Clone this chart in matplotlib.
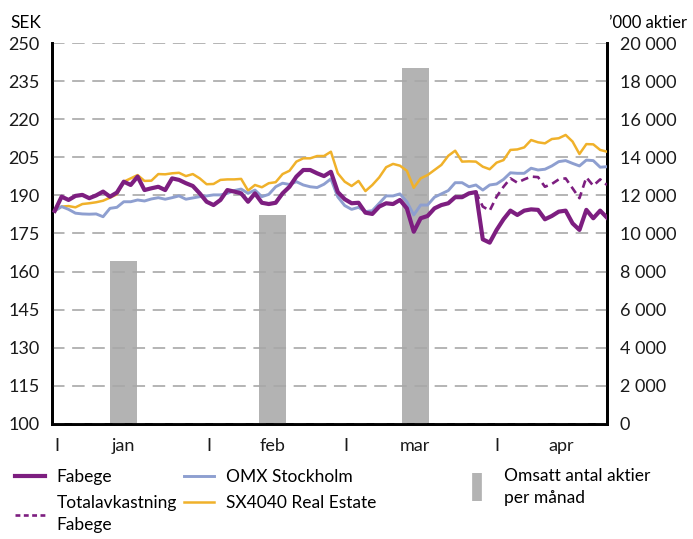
import matplotlib
matplotlib.use("Agg")
import matplotlib.pyplot as plt
from matplotlib.lines import Line2D
from matplotlib.ticker import FuncFormatter

plt.rcParams['font.family'] = ['Lato', 'DejaVu Sans']
plt.rcParams['lines.scale_dashes'] = False

# daily closing prices, SEK (trading-day index 0..80)
fabege = [183.9, 189.5, 188.2, 189.8, 190.2, 188.9, 190.0, 191.5, 189.5, 191.1,
          195.4, 194.1, 197.4, 192.1, 192.8, 193.4, 192.1, 196.7, 196.1, 194.8,
          193.7, 190.8, 187.5, 186.2, 188.2, 192.1, 191.5, 190.8, 187.5, 190.8,
          187.1, 186.6, 187.1, 190.8, 193.4, 197.4, 200.0, 200.0, 198.7, 197.6,
          199.3, 191.3, 188.5, 186.9, 187.1, 183.2, 182.7, 185.6, 186.9, 186.6,
          188.2, 184.9, 175.7, 181.0, 181.9, 184.9, 186.2, 186.9, 189.3, 189.3,
          190.8, 191.3, 172.7, 171.4, 176.4, 180.6, 184.0, 182.3, 184.0, 184.5,
          184.3, 180.6, 181.9, 183.6, 184.0, 179.0, 176.4, 184.3, 181.0, 184.0,
          181.2]

omx = [183.9, 185.6, 184.5, 183.0, 182.7, 182.6, 182.7, 181.6, 184.9, 185.3,
       187.5, 187.5, 188.2, 187.8, 188.6, 189.1, 188.5, 189.1, 189.8, 188.5,
       189.0, 189.5, 189.8, 190.2, 190.2, 190.8, 191.9, 192.5, 190.8, 192.1,
       189.5, 190.4, 193.4, 194.8, 194.3, 195.4, 194.1, 193.4, 193.1, 194.4,
       196.5, 189.4, 186.0, 184.5, 185.3, 183.6, 184.0, 186.9, 189.8, 189.8,
       190.6, 187.5, 182.3, 186.2, 186.2, 189.3, 190.6, 191.9, 195.0, 195.0,
       193.4, 194.1, 192.1, 194.1, 194.5, 196.3, 198.9, 198.7, 198.7, 200.7,
       200.0, 200.3, 201.6, 203.3, 203.7, 202.6, 201.6, 203.9, 203.7, 201.1,
       201.3]

sx4040 = [183.9, 185.6, 185.8, 185.3, 186.6, 186.9, 187.3, 187.9, 189.1, 190.4,
          195.4, 196.7, 198.0, 195.7, 195.8, 198.4, 198.3, 198.7, 198.9, 197.6,
          198.4, 196.7, 194.4, 194.5, 196.1, 196.3, 196.3, 196.5, 191.9, 194.1,
          193.2, 194.8, 195.2, 198.4, 199.7, 203.3, 204.6, 204.6, 205.5, 205.5,
          207.2, 198.7, 195.4, 193.7, 195.7, 191.7, 194.1, 197.1, 201.1, 202.4,
          201.7, 199.7, 193.0, 196.7, 198.0, 200.0, 202.0, 205.6, 207.6, 203.3,
          203.4, 203.3, 201.3, 200.3, 202.9, 203.9, 207.9, 208.1, 208.9, 211.8,
          210.9, 210.5, 212.2, 212.5, 213.8, 211.2, 206.3, 210.2, 210.1, 207.9,
          207.2]

# total return, shown from the ex-dividend date (index 61 onwards)
total_start = 61
total_return = [191.3, 185.6, 184.0, 189.5, 193.4, 196.7, 195.0, 196.3, 197.4, 197.2,
                193.4, 194.5, 196.3, 196.7, 192.8, 188.9, 197.1, 193.8, 196.3, 194.1]

# monthly turnover, '000 shares
months = ["jan", "feb", "mar", "apr"]
month_pos = [10.0, 31.5, 52.2, 73.4]
month_sep = [0.3, 22.3, 42.2, 64.1]
volume = [8550, 10970, 18700]

purple = "#7d1e80"
lavender = "#8e9fd0"
orange = "#f0b12a"
grey = "#b3b3b3"

fig = plt.figure(figsize=(6.93, 5.39), dpi=100)
ax = fig.add_axes([0.075, 0.2134, 0.801, 0.7068])
ax2 = ax.twinx()
ax.set_zorder(ax2.get_zorder() + 1)
ax.patch.set_visible(False)

ax2.bar(month_pos[:len(volume)], volume, width=3.9, color=grey, zorder=1)
ax2.set_ylim(0, 20000)
ax2.set_yticks(range(0, 20001, 2000))
ax2.yaxis.set_major_formatter(FuncFormatter(lambda v, p: f"{int(v):,}".replace(",", " ")))

days = list(range(len(fabege)))
ax.plot(days, sx4040, color=orange, lw=1.8, zorder=3)
ax.plot(days, omx, color=lavender, lw=2.1, zorder=3)
ax.plot(days[total_start:], total_return, color=purple, lw=1.9,
        linestyle=(0, (5.5, 3.5)), zorder=4)
ax.plot(days, fabege, color=purple, lw=3.0, zorder=5)

ax.set_ylim(100, 250)
ax.set_yticks(range(100, 251, 15))
ax.set_xlim(-0.4, 80)
ax.grid(axis='y', color='#a8a8a8', lw=1.2, linestyle=(0, (9, 5.5)), zorder=2)

xt = month_sep + month_pos
xl = ["I"] * len(month_sep) + months
ax.set_xticks(xt)
ax.set_xticklabels(xl)

for a in (ax, ax2):
    a.tick_params(length=0, labelsize=13, colors='#1a1a1a')
    a.spines['top'].set_visible(False)
    for s in ('left', 'right', 'bottom'):
        a.spines[s].set_linewidth(2.0)
ax.tick_params(axis='y', pad=9)
ax2.tick_params(axis='y', pad=9)
ax.tick_params(axis='x', pad=10)

fig.text(10 / 693, 1 - 23 / 539, "SEK", fontsize=12.5, va='center', ha='left')
fig.text(609 / 693, 1 - 23 / 539, "’000 aktier", fontsize=12, va='center', ha='left')

leg_kw = dict(frameon=False, fontsize=12.5, handlelength=1.7, handletextpad=0.7,
              labelspacing=0.6, borderpad=0, borderaxespad=0, loc='upper left')
h1 = [Line2D([], [], color=purple, lw=3.0),
      Line2D([], [], color=purple, lw=1.9, linestyle=(0, (3.5, 2.5)))]
leg1 = fig.legend(h1, ["Fabege", "Totalavkastning\nFabege"],
                  bbox_to_anchor=(15 / 693, 1 - 469 / 539), **leg_kw)
h2 = [Line2D([], [], color=lavender, lw=2.1),
      Line2D([], [], color=orange, lw=1.8)]
leg2 = fig.legend(h2, ["OMX Stockholm", "SX4040 Real Estate"],
                  bbox_to_anchor=(184 / 693, 1 - 469 / 539), **leg_kw)
h3 = [Line2D([], [], color=grey, linestyle='none', marker='|',
             markersize=20, markeredgewidth=7)]
leg3 = fig.legend(h3, ["Omsatt antal aktier\nper månad"],
                  bbox_to_anchor=(462 / 693, 1 - 468 / 539), **leg_kw)
for leg in (leg1, leg3):
    for t in leg.get_texts():
        t.set_linespacing(1.45)

fig.savefig("out.png", dpi=100)
